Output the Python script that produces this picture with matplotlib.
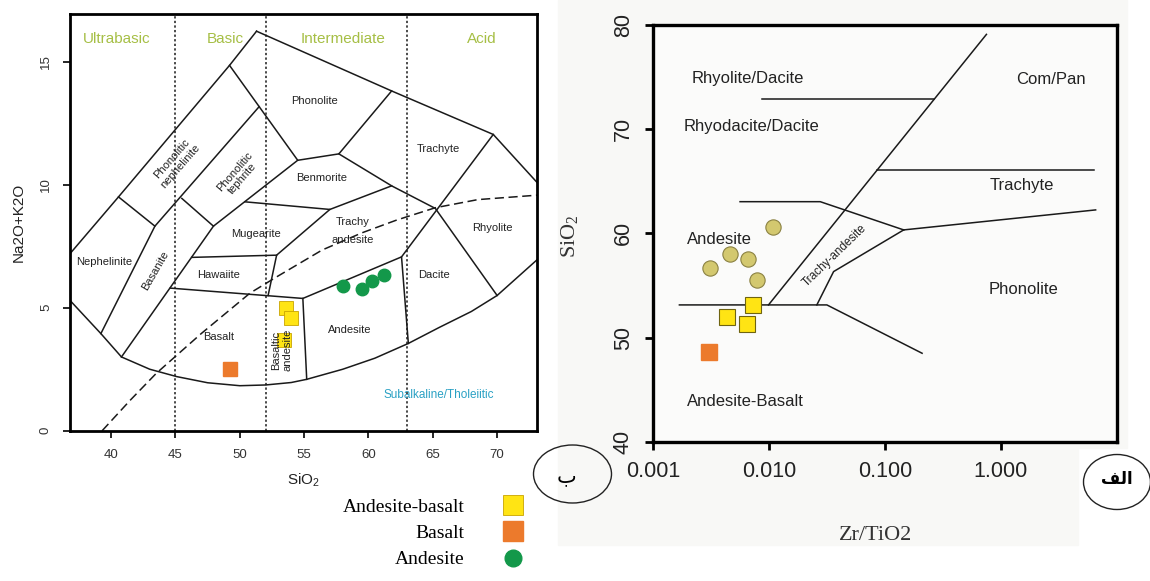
import numpy as np
import matplotlib
matplotlib.use('Agg')
from matplotlib import pyplot as plt
from matplotlib.patches import Ellipse, Rectangle
from matplotlib.lines import Line2D

plt.rcParams['font.family'] = ['Liberation Sans', 'DejaVu Sans']

# ---------------- TAS diagram samples (SiO2, Na2O+K2O) ----------------
tas_ab_sio2 = [53.6, 54.0, 53.4]          # andesite-basalt
tas_ab_alk = [5.0, 4.6, 3.7]
tas_b_sio2 = [49.2]                       # basalt
tas_b_alk = [2.5]
tas_and_sio2 = [58.0, 59.5, 60.3, 61.2]   # andesite
tas_and_alk = [5.9, 5.75, 6.1, 6.35]

# TAS field boundaries
tas_fields = [
    [(36.8, 7.2), (40.57, 9.51), (49.2, 14.86), (51.3, 16.25)],
    [(51.3, 16.25), (61.8, 13.82), (69.7, 12.05), (73.1, 10.1)],
    [(49.2, 14.86), (54.5, 11.0), (57.7, 11.26), (61.8, 13.82)],
    [(57.7, 11.26), (61.8, 9.96), (65.2, 9.04), (70.0, 5.5)],
    [(69.7, 12.05), (62.57, 7.07)],
    [(40.57, 9.51), (43.4, 8.32), (51.5, 13.18)],
    [(45.49, 9.45), (47.95, 8.32), (54.5, 11.0)],
    [(50.4, 9.31), (57.0, 9.0), (61.8, 9.96)],
    [(57.0, 9.0), (52.86, 7.14), (52.2, 5.5)],
    [(46.26, 7.05), (52.86, 7.14)],
    [(43.4, 8.32), (39.2, 3.95)],
    [(47.95, 8.32), (40.8, 3.0)],
    [(44.6, 5.8), (54.9, 5.38), (62.57, 7.07), (63.1, 3.55)],
    [(54.9, 5.38), (55.2, 2.09)],
]
tas_curve = [(36.8, 5.3), (39.2, 3.95), (40.8, 3.0), (43.0, 2.5), (45.1, 2.2),
             (47.5, 1.95), (50.0, 1.83), (52.0, 1.86), (54.0, 1.96), (55.2, 2.09),
             (58.0, 2.5), (60.5, 2.95), (63.1, 3.55), (65.5, 4.2), (68.0, 4.85),
             (70.0, 5.5), (73.1, 6.95)]
tas_alkali_line = [(39.3, 0.0), (41.5, 1.25), (43.5, 2.33), (47.0, 3.95), (50.8, 5.6),
                   (53.0, 6.3), (56.4, 7.35), (59.5, 8.05), (62.2, 8.57), (65.2, 9.07),
                   (68.5, 9.4), (73.1, 9.58)]
tas_dividers = [45, 52, 63]
tas_groups = ['Ultrabasic', 'Basic', 'Intermediate', 'Acid']
tas_group_x = [40.45, 48.85, 58.0, 68.8]
tas_labels = [
    ('Phonolite', 55.84, 13.4, 0), ('Trachyte', 65.47, 11.45, 0),
    ('Benmorite', 56.36, 10.27, 0), ('Rhyolite', 69.6, 8.24, 0),
    ('Mugearite', 51.26, 8.02, 0), ('Hawaiite', 48.33, 6.33, 0),
    ('Nephelinite', 39.46, 6.87, 0), ('Basanite', 43.4, 6.53, 60),
    ('Phonolitic\nnephelinite', 45.05, 10.92, 49), ('Phonolitic\ntephrite', 49.9, 10.4, 49),
    ('Basalt', 48.33, 3.82, 0), ('Basaltic\nandesite', 53.25, 3.28, 90),
    ('Andesite', 58.56, 4.09, 0), ('Dacite', 65.08, 6.33, 0),
]

# ---------------- Zr/TiO2 vs SiO2 samples ----------------
wf_and_zr = [0.0031, 0.0046, 0.0066, 0.0078, 0.0108]
wf_and_si = [56.7, 58.0, 57.5, 55.5, 60.6]
wf_ab_zr = [0.0072, 0.0043, 0.0065]
wf_ab_si = [53.1, 52.0, 51.3]
wf_b_zr = [0.0030]
wf_b_si = [48.6]

wf_fields = [
    [(0.00875, 72.93), (0.265, 72.93)],
    [(0.00987, 53.13), (0.751, 79.1)],
    [(0.085, 66.08), (6.36, 66.08)],
    [(0.145, 60.33), (6.58, 62.25)],
    [(0.00561, 63.04), (0.0276, 63.04), (0.145, 60.33)],
    [(0.145, 60.33), (0.036, 56.33), (0.0258, 53.13)],
    [(0.00168, 53.13), (0.0315, 53.13), (0.209, 48.49)],
]
wf_labels = [('Rhyolite/Dacite', 0.0066, 74.9), ('Rhyodacite/Dacite', 0.0071, 70.3),
             ('Com/Pan', 2.69, 74.8), ('Trachyte', 1.53, 64.6), ('Phonolite', 1.58, 54.6),
             ('Andesite', 0.0037, 59.4), ('Andesite-Basalt', 0.0062, 43.85)]
wf_xticks = [0.001, 0.01, 0.1, 1.0]
wf_xticklabels = ['0.001', '0.010', '0.100', '1.000']

yellow, yedge = '#ffe414', '#c9a400'
orange = '#ec7a2c'
green = '#13984a'
olive, oedge = '#d3c86f', '#8a8142'

W, H = 1150, 581
fig = plt.figure(figsize=(11.5, 5.81), dpi=100)


def px(x0, y0, x1, y1):
    return [x0 / W, 1 - y1 / H, (x1 - x0) / W, (y1 - y0) / H]


# background of the right panel
fig.patches.append(Rectangle((558 / W, 1 - 448 / H), (1127 - 558) / W, 448 / H,
                             transform=fig.transFigure, color='#f8f8f6', zorder=-5))
fig.patches.append(Rectangle((558 / W, 1 - 545 / H), (1078 - 558) / W, 97 / H,
                             transform=fig.transFigure, color='#f8f8f6', zorder=-5))

# ================= left: TAS =================
ax1 = fig.add_axes(px(70, 14, 537, 430.7))
ax1.set_xlim(36.8, 73.1)
ax1.set_ylim(0, 16.95)
for seg in tas_fields:
    xs, ys = zip(*seg)
    ax1.plot(xs, ys, color='#1a1a1a', lw=1.1)
xs, ys = zip(*tas_curve)
ax1.plot(xs, ys, color='#1a1a1a', lw=1.1)
xs, ys = zip(*tas_alkali_line)
ax1.plot(xs, ys, color='#1a1a1a', lw=1.1, ls=(0, (6, 3)))
for d in tas_dividers:
    ax1.axvline(d, color='#1a1a1a', lw=1.1, ls=(0, (1.5, 1.5)))
for g, gx in zip(tas_groups, tas_group_x):
    ax1.text(gx, 15.95, g, color='#a6bf45', fontsize=11, ha='center', va='center')
for name, lx, ly, rot in tas_labels:
    ax1.text(lx, ly, name, fontsize=8, ha='center', va='center', rotation=rot,
             color='#222222', linespacing=1.1)
ax1.text(58.8, 8.12, 'Trachy\nandesite', fontsize=8, ha='center', va='center',
         color='#222222', linespacing=1.9)
ax1.text(65.5, 1.45, 'Subalkaline/Tholeiitic', fontsize=8.5, ha='center', va='center',
         color='#2aa1c4')

ax1.plot(tas_ab_sio2, tas_ab_alk, 's', ms=10, mfc=yellow, mec=yedge, mew=0.6)
ax1.plot(tas_b_sio2, tas_b_alk, 's', ms=10, mfc=orange, mec=orange)
ax1.plot(tas_and_sio2, tas_and_alk, 'o', ms=9, mfc=green, mec=green)

ax1.set_xticks([40, 45, 50, 55, 60, 65, 70])
ax1.set_yticks([0, 5, 10, 15])
ax1.tick_params(length=5, width=1.2, labelsize=9.5, labelcolor='#333333', pad=8)
for lbl in ax1.get_yticklabels():
    lbl.set_rotation(90)
    lbl.set_va('center')
for s in ax1.spines.values():
    s.set_linewidth(2)
ax1.set_xlabel('SiO$\\mathregular{_2}$', fontsize=11, color='#222222', labelpad=8)
ax1.set_ylabel('Na2O+K2O', fontsize=11, color='#222222', labelpad=10)

# ================= right: Zr/TiO2 vs SiO2 =================
ax2 = fig.add_axes(px(653.3, 25, 1116.7, 441.7))
ax2.set_facecolor('#fbfbfa')
ax2.set_xscale('log')
ax2.set_xlim(0.001, 10)
ax2.set_ylim(40, 80)
for seg in wf_fields:
    xs, ys = zip(*seg)
    ax2.plot(xs, ys, color='#1a1a1a', lw=1.1)
for name, lx, ly in wf_labels:
    ax2.text(lx, ly, name, fontsize=12, ha='center', va='center', color='#222222')
ax2.text(0.037, 57.9, 'Trachy-andesite', fontsize=8.5, rotation=44, ha='center',
         va='center', color='#222222')

ax2.plot(wf_and_zr, wf_and_si, 'o', ms=11, mfc=olive, mec=oedge, mew=0.8)
ax2.plot(wf_ab_zr, wf_ab_si, 's', ms=11, mfc=yellow, mec='#6f6410', mew=0.8)
ax2.plot(wf_b_zr, wf_b_si, 's', ms=11, mfc=orange, mec=orange)

ax2.set_xticks(wf_xticks)
ax2.set_xticklabels(wf_xticklabels)
ax2.minorticks_off()
ax2.set_yticks([40, 50, 60, 70, 80])
ax2.tick_params(length=6, width=2, labelsize=15.5, labelcolor='#222222', pad=8)
for lbl in ax2.get_yticklabels():
    lbl.set_rotation(90)
    lbl.set_va('center')
for s in ax2.spines.values():
    s.set_linewidth(2.4)
fig.text(569 / W, 1 - 236 / H, 'SiO$\\mathregular{_2}$', family='Liberation Serif',
         fontsize=16, rotation=90, ha='center', va='center', color='#333333')
fig.text(876 / W, 1 - 535 / H, 'Zr/TiO2', family='Liberation Serif', fontsize=16,
         ha='center', va='center', color='#333333')

# ================= panel marks =================
fig.patches.append(Ellipse((572.5 / W, 1 - 474 / H), 78 / W, 58 / H, transform=fig.transFigure,
                           fill=False, ec='#222222', lw=1))
fig.text(567 / W, 1 - 476 / H, '\u0628', family='DejaVu Sans', fontsize=15,
         ha='center', va='center')
fig.patches.append(Ellipse((1117 / W, 1 - 482 / H), 67 / W, 55 / H, transform=fig.transFigure,
                           fill=False, ec='#222222', lw=1))
fig.text(1117 / W, 1 - 479 / H, '\ufed2\ufedf\ufe8d', family='DejaVu Sans', weight='bold',
         fontsize=12, ha='center', va='center')

# ================= legend =================
handles = [Line2D([], [], ls='none', marker='s', ms=14, mfc=yellow, mec=yedge, mew=0.6),
           Line2D([], [], ls='none', marker='s', ms=14, mfc=orange, mec=orange),
           Line2D([], [], ls='none', marker='o', ms=12, mfc=green, mec=green)]
fig.legend(handles, ['Andesite-basalt', 'Basalt', 'Andesite'], markerfirst=False,
           frameon=False, loc='upper right', bbox_to_anchor=(523 / W, 1 - 498 / H),
           prop={'family': 'Liberation Serif', 'size': 14}, handlelength=1.0,
           handletextpad=2.0, labelspacing=0.45, borderpad=0, borderaxespad=0)

fig.savefig('out.png', dpi=100)
